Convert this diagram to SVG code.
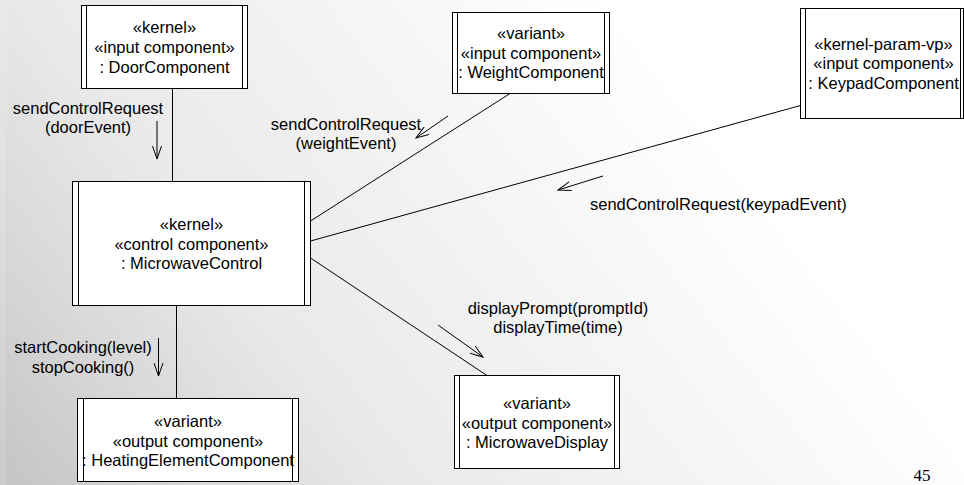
<svg xmlns="http://www.w3.org/2000/svg" width="964" height="485" viewBox="0 0 964 485">
  <defs>
    <linearGradient id="bg" gradientUnits="userSpaceOnUse" x1="0" y1="485" x2="620" y2="0">
      <stop offset="0" stop-color="#c4c4c4"/>
      <stop offset="0.2" stop-color="#d8d8d8"/>
      <stop offset="0.4" stop-color="#e9e9e9"/>
      <stop offset="0.7" stop-color="#f4f4f4"/>
      <stop offset="1" stop-color="#ffffff"/>
    </linearGradient>
    <marker id="open-arrow" viewBox="0 0 14 10" refX="13" refY="5" markerWidth="14" markerHeight="10" markerUnits="userSpaceOnUse" orient="auto">
      <path d="M0,0.5 L13,5 L0,9.5" fill="none" stroke="#000" stroke-width="1"/>
    </marker>
    <style>
      .box { fill: #ffffff; stroke: #000; stroke-width: 1; }
      .bar { stroke: #000; stroke-width: 1; }
      .link { stroke: #000; stroke-width: 1; fill: none; }
      .msg { stroke: #000; stroke-width: 1; fill: none; marker-end: url(#open-arrow); }
      text { font-family: "Liberation Sans", Arial, sans-serif; font-size: 16.5px; fill: #000; }
      .c { text-anchor: middle; }
      .page { font-family: "Liberation Serif", "Times New Roman", serif; font-size: 17px; }
    </style>
  </defs>

  <rect x="0" y="0" width="964" height="485" fill="url(#bg)"/>
  <rect x="0" y="0" width="6" height="485" fill="#ffffff" opacity="0.12"/>

  <!-- connectors between components -->
  <g id="connectors">
    <line class="link" x1="172.5" y1="88.5" x2="172.5" y2="181.5"/>
    <line class="link" x1="510" y1="93.5" x2="310.5" y2="221"/>
    <line class="link" x1="800.5" y1="105.5" x2="310.5" y2="241"/>
    <line class="link" x1="310.5" y1="258" x2="487" y2="375.5"/>
    <line class="link" x1="176.5" y1="305.5" x2="176.5" y2="398.5"/>
  </g>

  <!-- message arrows and labels -->
  <g id="messages">
    <line class="msg" x1="157" y1="121" x2="157" y2="159"/>
    <text class="c" x="88" y="113.5">sendControlRequest</text>
    <text class="c" x="88" y="132.5">(doorEvent)</text>

    <line class="msg" x1="448" y1="116" x2="416" y2="138"/>
    <text class="c" x="346" y="129.5">sendControlRequest</text>
    <text class="c" x="346" y="149">(weightEvent)</text>

    <line class="msg" x1="603" y1="176" x2="558" y2="190"/>
    <text x="590" y="209.5">sendControlRequest(keypadEvent)</text>

    <line class="msg" x1="438" y1="325" x2="483" y2="357"/>
    <text class="c" x="558" y="313.5">displayPrompt(promptId)</text>
    <text class="c" x="558" y="333">displayTime(time)</text>

    <line class="msg" x1="158.5" y1="338" x2="158.5" y2="376"/>
    <text class="c" x="83" y="353">startCooking(level)</text>
    <text class="c" x="83" y="373">stopCooking()</text>
  </g>

  <g id="door-component">
    <rect class="box" x="81.5" y="5.5" width="166" height="83"/>
    <text class="c" x="164.5" y="33">«kernel»</text>
    <text class="c" x="164.5" y="53">«input component»</text>
    <text class="c" x="164.5" y="72.5">: DoorComponent</text>
    <line class="bar" x1="86.5" y1="5.5" x2="86.5" y2="88.5"/>
    <line class="bar" x1="242.5" y1="5.5" x2="242.5" y2="88.5"/>
  </g>

  <g id="weight-component">
    <rect class="box" x="452.5" y="12.5" width="157" height="81"/>
    <text class="c" x="531" y="38.5">«variant»</text>
    <text class="c" x="531" y="58.5">«input component»</text>
    <text class="c" x="531" y="78">: WeightComponent</text>
    <line class="bar" x1="457.5" y1="12.5" x2="457.5" y2="93.5"/>
    <line class="bar" x1="604.5" y1="12.5" x2="604.5" y2="93.5"/>
  </g>

  <g id="keypad-component">
    <rect class="box" x="800.5" y="8.5" width="163" height="110"/>
    <text class="c" x="883.5" y="49.5">«kernel-param-vp»</text>
    <text class="c" x="883.5" y="69">«input component»</text>
    <text class="c" x="883.5" y="88.5">: KeypadComponent</text>
    <line class="bar" x1="805.5" y1="8.5" x2="805.5" y2="118.5"/>
    <line class="bar" x1="960.5" y1="8.5" x2="960.5" y2="118.5"/>
  </g>

  <g id="microwave-control">
    <rect class="box" x="72.5" y="181.5" width="238" height="124"/>
    <text class="c" x="191.5" y="230">«kernel»</text>
    <text class="c" x="191.5" y="249.5">«control component»</text>
    <text class="c" x="191.5" y="269">: MicrowaveControl</text>
    <line class="bar" x1="78.5" y1="181.5" x2="78.5" y2="305.5"/>
    <line class="bar" x1="304.5" y1="181.5" x2="304.5" y2="305.5"/>
  </g>

  <g id="microwave-display">
    <rect class="box" x="454.5" y="375.5" width="165" height="93"/>
    <text class="c" x="537" y="409">«variant»</text>
    <text class="c" x="537" y="428.5">«output component»</text>
    <text class="c" x="537" y="448">: MicrowaveDisplay</text>
    <line class="bar" x1="459.5" y1="375.5" x2="459.5" y2="468.5"/>
    <line class="bar" x1="614.5" y1="375.5" x2="614.5" y2="468.5"/>
  </g>

  <g id="heating-element-component">
    <rect class="box" x="77.5" y="398.5" width="221" height="83"/>
    <text class="c" x="188" y="427">«variant»</text>
    <text class="c" x="188" y="446.5">«output component»</text>
    <text class="c" x="188" y="466">: HeatingElementComponent</text>
    <line class="bar" x1="83.5" y1="398.5" x2="83.5" y2="481.5"/>
    <line class="bar" x1="292.5" y1="398.5" x2="292.5" y2="481.5"/>
  </g>

  <text class="page c" x="922" y="481">45</text>
</svg>
